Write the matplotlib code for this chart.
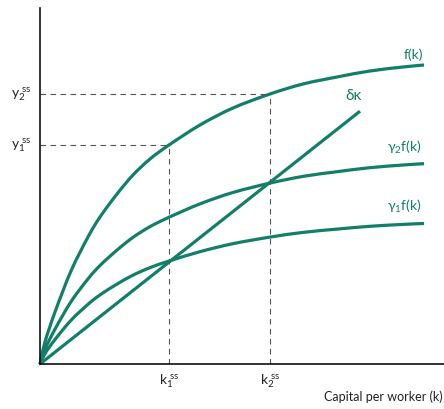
import numpy as np
import matplotlib
matplotlib.use("Agg")
import matplotlib.pyplot as plt
from matplotlib.path import Path
from matplotlib.patches import PathPatch

# production function f(k), sampled along the curve
k = np.array([0, 5, 15, 31, 48, 60, 77, 93, 110, 129, 160, 193, 230, 263, 297, 330, 363, 384])
f = np.array([0, 22, 52, 93, 127, 147, 170, 189, 205, 219, 239, 256, 270, 280, 287, 293, 297, 299])

# savings rates and depreciation
gamma1 = 0.47
gamma2 = 0.67
delta = 0.79
k_line_end = 320

# steady states
k_ss = [129, 230]
ss_labels = ["1", "2"]

GREEN = "#127f69"
DASH = "#555555"


def smooth_path(x, y):
    # cubic bezier through the sampled points (catmull-rom tangents)
    pts = np.column_stack([x, y]).astype(float)
    verts = [pts[0]]
    codes = [Path.MOVETO]
    n = len(pts)
    for i in range(n - 1):
        p0 = pts[max(i - 1, 0)]
        p1 = pts[i]
        p2 = pts[i + 1]
        p3 = pts[min(i + 2, n - 1)]
        c1 = p1 + (p2 - p0) / 6
        c2 = p2 - (p3 - p1) / 6
        verts += [c1, c2, p2]
        codes += [Path.CURVE4] * 3
    return Path(verts, codes)


plt.rcParams["font.family"] = ["Lato", "DejaVu Sans"]
plt.rcParams["mathtext.fontset"] = "dejavusans"

fig = plt.figure(figsize=(4.44, 4.09), dpi=100)
ax = fig.add_axes([40 / 444, 45 / 409, 404 / 444, 356 / 409])
ax.set_xlim(0, 404)
ax.set_ylim(0, 356)

lw = 2.3
for scale in [1.0, gamma2, gamma1]:
    ax.add_patch(PathPatch(smooth_path(k, scale * f), fill=False, edgecolor=GREEN,
                           lw=lw, capstyle="butt", clip_on=False))
kl = np.array([0, k_line_end])
ax.plot(kl, delta * kl, color=GREEN, lw=lw, solid_capstyle="butt", clip_on=False)

# dashed guides to the steady states
for kk, lab in zip(k_ss, ss_labels):
    yy = f[list(k).index(kk)]
    ax.plot([kk, kk], [0, yy], color=DASH, lw=0.8, ls=(0, (5, 4)))
    ax.plot([0, kk], [yy, yy], color=DASH, lw=0.8, ls=(0, (5, 4)))
    ax.text(-8, yy, r"$\mathregular{y_{%s}^{\ ss}}$" % lab, ha="right", va="center",
            fontsize=10, color="#222222")
    ax.text(kk, -8, r"$\mathregular{k_{%s}^{\ ss}}$" % lab, ha="center", va="top",
            fontsize=10, color="#222222")

# curve labels
ax.text(383, 303, "f(k)", color=GREEN, fontsize=10, ha="right", va="bottom")
ax.text(k_line_end + 2, delta * k_line_end + 8, "δκ", color=GREEN, fontsize=11,
        ha="right", va="bottom")
ax.text(381, gamma2 * f[-1] + 8, r"$\mathregular{\gamma_2}$f(k)", color=GREEN, fontsize=10,
        ha="right", va="bottom")
ax.text(381, gamma1 * f[-1] + 8, r"$\mathregular{\gamma_1}$f(k)", color=GREEN, fontsize=10,
        ha="right", va="bottom")

ax.text(403, -26, "Capital per worker (k)", fontsize=9, color="#222222", ha="right", va="top")

for side in ["top", "right"]:
    ax.spines[side].set_visible(False)
for side in ["left", "bottom"]:
    ax.spines[side].set_linewidth(1.2)
    ax.spines[side].set_color("#111111")
ax.set_xticks([])
ax.set_yticks([])

fig.savefig("out.png", dpi=100)
